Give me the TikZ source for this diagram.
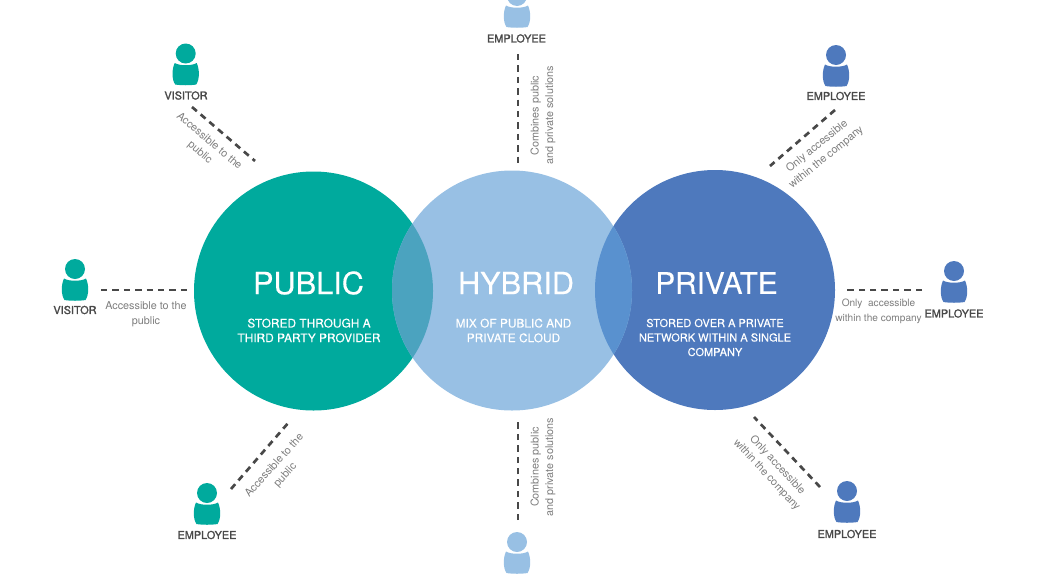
\documentclass[tikz,border=0pt]{standalone}
\usepackage{fontspec}
\setmainfont{TeX Gyre Heros}
\newfontfamily\medfont[FakeBold=0.25]{TeX Gyre Heros}
\newfontfamily\semifont[FakeBold=1.6]{TeX Gyre Heros}
\usepackage{xcolor}
\usepackage{tikz}
\definecolor{pubc}{RGB}{0,170,157}
\definecolor{hybc}{RGB}{152,192,228}
\definecolor{pric}{RGB}{78,121,189}
\definecolor{ovla}{RGB}{75,163,191}
\definecolor{ovlb}{RGB}{89,145,207}
\definecolor{dashc}{RGB}{72,72,72}
\definecolor{notec}{RGB}{125,125,125}

\begin{document}
\begin{tikzpicture}[
  x=1pt, y=-1pt,
  blob/.style={circle, draw=none, minimum size=#1, inner sep=0pt},
  title/.style={text=white, inner sep=0pt, font=\medfont\fontsize{30.7}{32}\selectfont},
  sub/.style={text=white, align=center, inner sep=0pt, font=\medfont\fontsize{11.9}{14.7}\selectfont},
  subb/.style={sub, font=\medfont\fontsize{11}{14.5}\selectfont},
  who/.style={text=dashc, inner sep=0pt, font=\semifont\fontsize{10.9}{12}\selectfont},
  note/.style={text=notec, align=center, inner sep=0pt, font=\fontsize{10.8}{14.5}\selectfont},
  link/.style={draw=dashc, line width=2.7pt, dash pattern=on 6.4pt off 5pt},
  person/.pic={
    \fill[pic actions] (0,0) circle (10);
    \fill[pic actions] (-11,9.5) .. controls (-6,12.5) and (6,12.5) .. (11,9.5)
      .. controls (14,16) and (14,26) .. (10.5,31)
      .. controls (5,32) and (-5,32) .. (-10.5,31)
      .. controls (-14,26) and (-14,16) .. (-11,9.5) -- cycle;
  }]
\useasboundingbox (0,0) rectangle (1038,576);
\clip (0,0) rectangle (1038,576);
% circles
\node[blob=239pt, fill=pubc] (public) at (313.5,291) {};
\node[blob=240pt, fill=pric] (private) at (715,290) {};
\node[blob=240pt, fill=hybc] (hybrid) at (512,290.5) {};
\begin{scope}
  \clip (public.center) circle (119.5);
  \fill[ovla] (hybrid.center) circle (120);
\end{scope}
\begin{scope}
  \clip (private.center) circle (120);
  \fill[ovlb] (hybrid.center) circle (120);
\end{scope}
% texts inside
\node[title] (tpub) at (308.5,283) {PUBLIC};
\node[title] (thyb) at (516,283) {HYBRID};
\node[title, font=\medfont\fontsize{29.7}{32}\selectfont] (tpri) at (716.5,283) {PRIVATE};
\node[sub] (spub) at (309,330.5) {STORED THROUGH A\\THIRD PARTY PROVIDER};
\node[sub] (shyb) at (513.5,330.5) {MIX OF PUBLIC AND\\PRIVATE CLOUD};
\node[subb] (spri) at (715,337.5) {STORED OVER A PRIVATE\\NETWORK WITHIN A SINGLE\\COMPANY};
% people
\pic[fill=pubc] (pa) at (185.7,53.5) {person};
\pic[fill=pubc] (pb) at (75,269) {person};
\pic[fill=pubc] (pc) at (207,493) {person};
\pic[fill=hybc] (pd) at (517,-4) {person};
\pic[fill=hybc] (pe) at (517,542) {person};
\pic[fill=pric] (pf) at (836,55) {person};
\pic[fill=pric] (pg) at (954,271) {person};
\pic[fill=pric] (ph) at (847,491) {person};
\node[who] (wa) at (186,95.5) {VISITOR};
\node[who] (wb) at (75,310) {VISITOR};
\node[who] (wc) at (207,535) {EMPLOYEE};
\node[who] (wd) at (516.5,38.5) {EMPLOYEE};
\node[who] (wf) at (836,96) {EMPLOYEE};
\node[who] (wg) at (954,313.5) {EMPLOYEE};
\node[who] (wh) at (847,534) {EMPLOYEE};
% dashed links
\coordinate (la) at (192,107);  \coordinate (ma) at (255,161);
\coordinate (lb) at (101,290);  \coordinate (mb) at (187,290);
\coordinate (lc) at (231,489);  \coordinate (mc) at (289,422);
\coordinate (ld) at (518,54);   \coordinate (md) at (518,165);
\coordinate (le) at (518,520);  \coordinate (me) at (518,418);
\coordinate (lf) at (835,110);  \coordinate (mf) at (770,166);
\coordinate (lg) at (922,290);  \coordinate (mg) at (844,290);
\coordinate (lh) at (820,487);  \coordinate (mh) at (754,417);
\draw[link] (la) -- (ma); \draw[link] (lb) -- (mb);
\draw[link] (lc) -- (mc); \draw[link] (ld) -- (md);
\draw[link] (le) -- (me); \draw[link] (lf) -- (mf);
\draw[link] (lg) -- (mg); \draw[link] (lh) -- (mh);
% notes
\node[note, rotate=-40] (na) at (204.5,147) {Accessible to the\\public};
\node[note] (nb) at (146,314) {Accessible to the\\public};
\node[note, rotate=48] (nc) at (280,470.5) {Accessible to the\\public};
\node[note, rotate=90] (nd) at (543,115.5) {Combines public\\and private solutions};
\node[note, rotate=90] (ne) at (543,467) {Combines public\\and private solutions};
\node[note, rotate=39] (nf) at (821.7,152) {Only accessible\\within the company};
\node[note, font=\fontsize{10.1}{14.5}\selectfont] (ng) at (878.5,311.5) {Only\ \ accessible\\within the company};
\node[note, rotate=-47] (nh) at (772,470) {Only accessible\\within the company};
\end{tikzpicture}
\end{document}
